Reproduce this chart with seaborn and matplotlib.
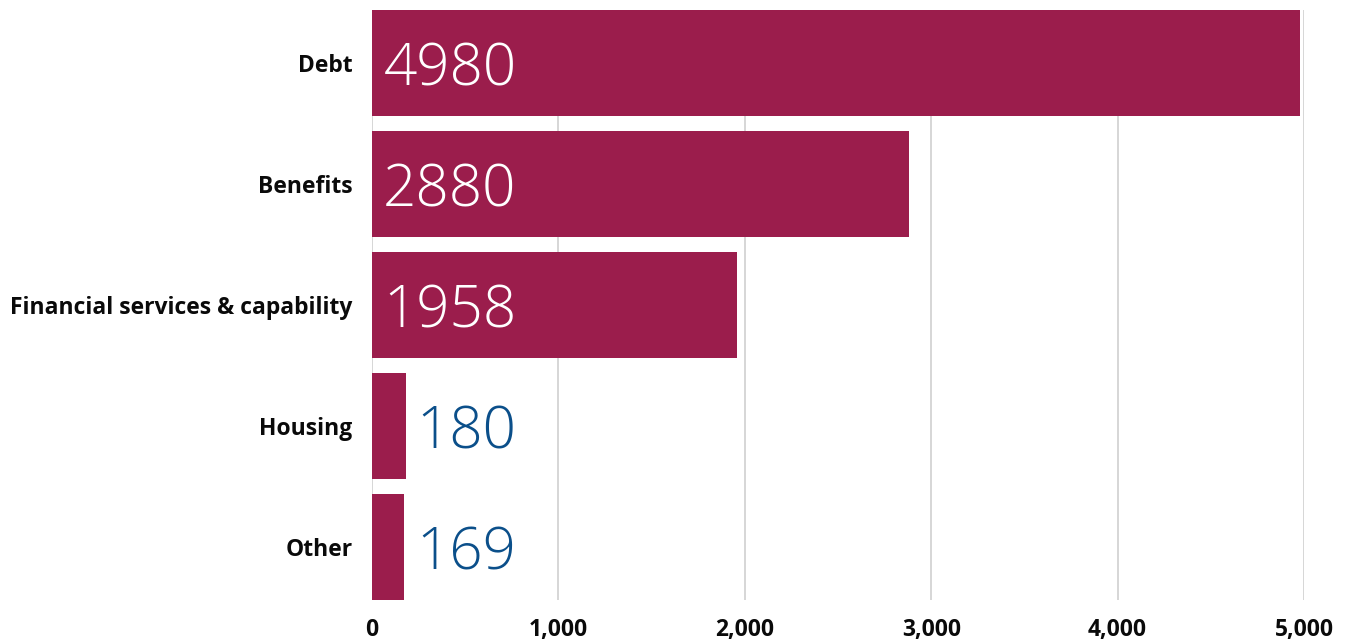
import matplotlib
matplotlib.use("Agg")
import matplotlib.pyplot as plt
import seaborn as sns
import pandas as pd

categories = ["Debt", "Benefits", "Financial services & capability", "Housing", "Other"]
values = [4980, 2880, 1958, 180, 169]
xticks = [0, 1000, 2000, 3000, 4000, 5000]
xtick_labels = ["0", "1,000", "2,000", "3,000", "4,000", "5,000"]

sns.set_theme(style="white")
plt.rcParams['font.family'] = ['Open Sans', 'DejaVu Sans']

df = pd.DataFrame({"category": categories, "value": values})

fig = plt.figure(figsize=(13.45, 6.42), dpi=100)
ax = fig.add_axes([372/1345, 1 - 600/642, (1304-372)/1345, 590/642])

bar_w = 0.876
sns.barplot(data=df, y="category", x="value", color="#9B1D4C", saturation=1,
            width=bar_w, ax=ax, orient="h", zorder=2, linewidth=0)

ax.set_xlim(0, 5000)
ax.set_ylim(len(categories) - 1 + bar_w/2, -bar_w/2)
ax.set_xticks(xticks)
ax.set_xticklabels(xtick_labels, fontsize=16.5, fontweight="bold", color="#0a0a0a")
ax.tick_params(axis="x", length=0, pad=13)
ax.tick_params(axis="y", length=0, pad=14)
for lbl in ax.get_yticklabels():
    lbl.set_fontsize(16.5)
    lbl.set_fontweight("bold")
    lbl.set_color("#0a0a0a")
ax.set_xlabel("")
ax.set_ylabel("")
ax.grid(axis="x", color="#d0d0d0", linewidth=1.2, zorder=0)
ax.set_axisbelow(True)
for s in ax.spines.values():
    s.set_visible(False)

label_x = 775
for i, v in enumerate(values):
    col = "white" if v > label_x else "#0B4F8A"
    ax.text(label_x, i, str(v), ha="right", va="center_baseline", fontsize=42,
            fontweight="light", color=col, zorder=3)

fig.savefig("out.png", dpi=100)
